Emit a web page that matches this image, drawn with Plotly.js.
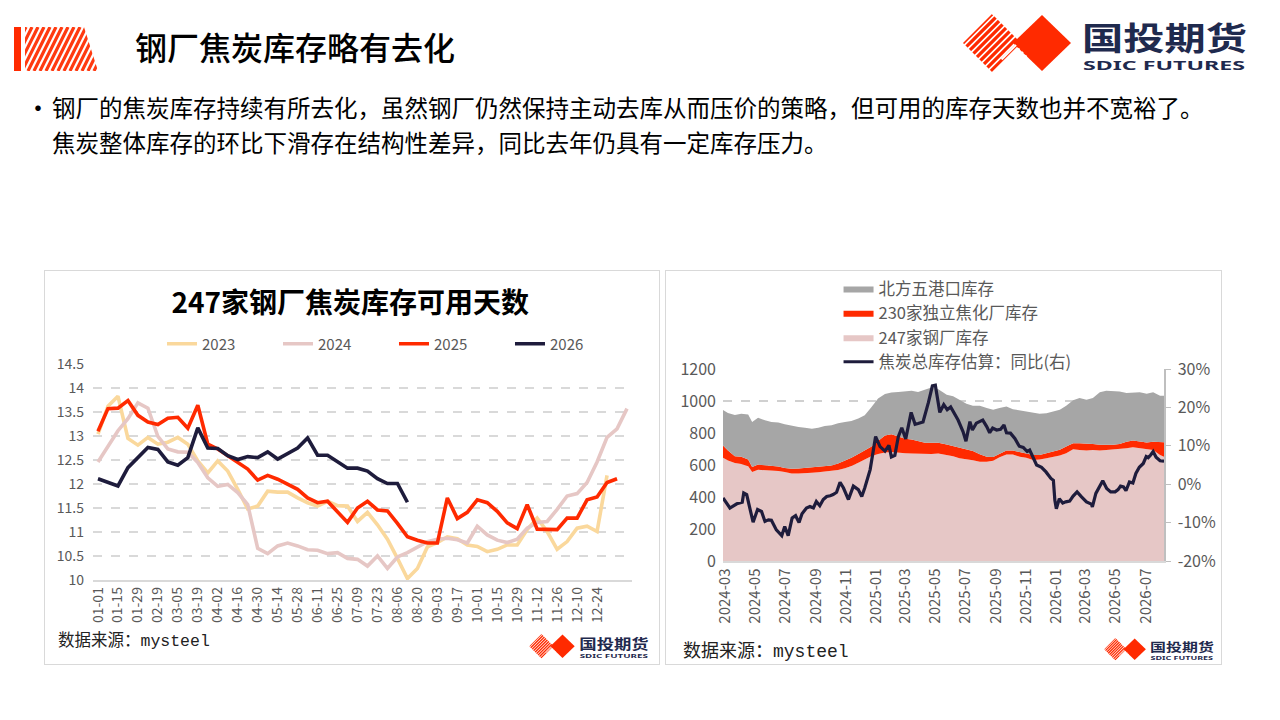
<!DOCTYPE html>
<html>
<head>
<meta charset="utf-8">
<script src="https://cdn.plot.ly/plotly-3.0.1.min.js"></script>
<style>
  body { margin: 0; background: #fff; font-family: 'Noto Sans CJK SC', 'Noto Sans', sans-serif; }
  #page { position: relative; width: 1280px; height: 720px; overflow: hidden; background: #fff; }
  .abs { position: absolute; }
  .box { position: absolute; border: 1.5px solid #d9d9d9; box-sizing: border-box; }
  .src { position: absolute; font-family: 'Liberation Mono', 'Noto Sans CJK SC', monospace; color: #222; white-space: nowrap; }
  .title { left: 135px; top: 24px; font-size: 32px; font-weight: 500; line-height: 44px; color: #000; white-space: nowrap; }
  .bullet { left: 52px; top: 90px; font-size: 23.5px; line-height: 35px; color: #000; white-space: nowrap; }
  .dot { left: 25px; top: 89px; font-size: 26px; line-height: 35px; }
  svg { overflow: visible; }
</style>
</head>
<body>
<div id="page">
  <div class="abs" id="headMark" style="left:14px;top:27px;"></div>
  <div class="abs title">钢厂焦炭库存略有去化</div>
  <div class="abs" id="logoTop" style="left:960px;top:14px;"></div>

  <div class="abs dot">•</div>
  <div class="abs bullet">钢厂的焦炭库存持续有所去化，虽然钢厂仍然保持主动去库从而压价的策略，但可用的库存天数也并不宽裕了。<br>焦炭整体库存的环比下滑存在结构性差异，同比去年仍具有一定库存压力。</div>

  <div class="box" style="left:44px;top:270px;width:616px;height:395px;"></div>
  <div class="abs" id="daysChart" style="left:44px;top:270px;width:615px;height:394px;"></div>
  <div class="src" style="left:58px;top:627px;font-size:16.5px;">数据来源：mysteel</div>
  <div class="abs" id="logoLeft" style="left:528px;top:634px;"></div>

  <div class="box" style="left:665px;top:270px;width:557px;height:395px;"></div>
  <div class="abs" id="stockChart" style="left:665px;top:270px;width:556px;height:394px;"></div>
  <div class="src" style="left:683px;top:636px;font-size:18px;">数据来源：mysteel</div>
  <div class="abs" id="logoRight" style="left:1103px;top:638px;"></div>
</div>

<script>
const FONT = "'Noto Sans CJK SC', 'Noto Sans', sans-serif";
const AXIS_GREY = '#595959';

// ---- left chart: 247家钢厂焦炭库存可用天数 (weekly) ----
const DAYS = [
  '01-01', '01-08', '01-15', '01-22', '01-29', '02-05', '02-19', '02-26', '03-05', '03-12',
  '03-19', '03-26', '04-02', '04-09', '04-16', '04-23', '04-30', '05-07', '05-14', '05-21',
  '05-28', '06-04', '06-11', '06-18', '06-25', '07-02', '07-09', '07-16', '07-23', '07-30',
  '08-06', '08-13', '08-20', '08-27', '09-03', '09-10', '09-17', '09-24', '10-01', '10-08',
  '10-15', '10-22', '10-29', '11-05', '11-12', '11-19', '11-26', '12-03', '12-10', '12-17',
  '12-24', '12-31', '01-07', '01-14'
];
const DAY_TICKS = [
  '01-01', '01-15', '01-29', '02-19', '03-05', '03-19', '04-02', '04-16', '04-30', '05-14',
  '05-28', '06-11', '06-25', '07-09', '07-23', '08-06', '08-20', '09-03', '09-17', '10-01',
  '10-15', '10-29', '11-12', '11-26', '12-10', '12-24'
];
const Y2023 = [
  13.04, 13.62, 13.83, 12.95, 12.81, 12.97, 12.83, 12.87, 12.97, 12.83,
  12.48, 12.23, 12.48, 12.27, 11.89, 11.48, 11.54, 11.85, 11.83, 11.83,
  11.71, 11.61, 11.54, 11.64, 11.55, 11.54, 11.22, 11.41, 11.15, 10.85,
  10.45, 10.03, 10.24, 10.69, 10.78, 10.90, 10.86, 10.73, 10.70, 10.59,
  10.64, 10.73, 10.73, 11.05, 11.29, 11.01, 10.64, 10.80, 11.08, 11.12,
  11.01, 12.18
];
const Y2024 = [
  12.46, 12.80, 13.11, 13.36, 13.69, 13.58, 12.99, 12.73, 12.67, 12.66,
  12.45, 12.13, 11.95, 11.99, 11.82, 11.57, 10.66, 10.55, 10.71, 10.77,
  10.71, 10.63, 10.62, 10.55, 10.57, 10.45, 10.43, 10.29, 10.50, 10.24,
  10.48, 10.57, 10.68, 10.80, 10.85, 10.87, 10.84, 10.77, 11.12, 10.94,
  10.83, 10.78, 10.85, 11.08, 11.20, 11.22, 11.47, 11.75, 11.80, 12.03,
  12.46, 12.97, 13.15, 13.57
];
const Y2025 = [
  13.10, 13.57, 13.58, 13.74, 13.43, 13.29, 13.24, 13.37, 13.39, 13.16,
  13.64, 12.83, 12.73, 12.59, 12.45, 12.31, 12.08, 12.18, 12.10, 11.99,
  11.89, 11.71, 11.61, 11.64, 11.43, 11.20, 11.50, 11.64, 11.46, 11.44,
  11.18, 10.90, 10.83, 10.77, 10.77, 11.71, 11.28, 11.41, 11.67, 11.61,
  11.43, 11.19, 11.07, 11.57, 11.06, 11.05, 11.05, 11.29, 11.29, 11.67,
  11.73, 12.03, 12.11
];
const Y2026 = [
  12.11, 12.03, 11.96, 12.34, 12.55, 12.76, 12.72, 12.46, 12.39, 12.55,
  13.17, 12.75, 12.74, 12.59, 12.51, 12.57, 12.55, 12.67, 12.52, 12.64,
  12.75, 12.96, 12.60, 12.60, 12.46, 12.33, 12.33, 12.27, 12.11, 12.01,
  12.01, 11.62
];
const YEAR_NAMES = ['2023', '2024', '2025', '2026'];
const YEAR_COLORS = ['#FAD89C', '#E6C7C5', '#FF2A00', '#1E1C3C'];

// ---- right chart: 焦炭库存 (万吨) 与同比 ----
const AREA_DATES = [
  '2024-02-26', '2024-03-07', '2024-03-21', '2024-04-03', '2024-04-17', '2024-04-25', '2024-05-07', '2024-05-21',
  '2024-06-03', '2024-06-17', '2024-06-30', '2024-07-14', '2024-07-28', '2024-08-10', '2024-08-24', '2024-09-06',
  '2024-09-19', '2024-10-03', '2024-10-16', '2024-10-30', '2024-11-12', '2024-11-26', '2024-12-09', '2024-12-22',
  '2025-01-05', '2025-01-19', '2025-02-01', '2025-02-15', '2025-03-01', '2025-03-14', '2025-03-27', '2025-04-10',
  '2025-04-23', '2025-05-07', '2025-05-24', '2025-06-06', '2025-06-19', '2025-07-03', '2025-07-16', '2025-07-30',
  '2025-08-13', '2025-08-26', '2025-09-08', '2025-09-22', '2025-10-05', '2025-10-19', '2025-11-01', '2025-11-15',
  '2025-11-28', '2025-12-12', '2025-12-25', '2026-01-08', '2026-01-21', '2026-02-04', '2026-02-17', '2026-03-03',
  '2026-03-16', '2026-03-30', '2026-04-12', '2026-04-26', '2026-05-09', '2026-05-23', '2026-06-05', '2026-06-19',
  '2026-07-03', '2026-07-16', '2026-07-30', '2026-08-07'
];
const STEEL = [
  645, 628, 612, 606, 592, 556, 570, 568, 566, 562, 556, 547, 547, 547, 551, 555,
  558, 561, 568, 580, 593, 614, 634, 655, 669, 678, 681, 676, 674, 672, 670, 666,
  668, 672, 664, 655, 642, 638, 630, 621, 621, 626, 648, 665, 665, 652, 646, 632,
  634, 642, 650, 660, 673, 698, 694, 690, 694, 690, 694, 698, 698, 705, 711, 705,
  698, 694, 663, 652
];
const COKING = [
  77, 62, 43, 45, 42, 32, 33, 32, 31, 28, 26, 29, 31, 35, 34, 33,
  34, 36, 42, 47, 52, 55, 56, 59, 81, 107, 111, 101, 90, 88, 80, 73,
  71, 67, 64, 63, 69, 64, 58, 46, 31, 24, 22, 25, 25, 28, 26, 31,
  29, 33, 32, 35, 42, 38, 42, 46, 38, 36, 32, 28, 34, 41, 42, 41,
  42, 52, 83, 90
];
const PORT = [
  222, 235, 257, 269, 281, 281, 293, 279, 272, 275, 272, 268, 260, 251, 242, 245,
  252, 251, 251, 242, 230, 221, 221, 245, 266, 258, 261, 280, 296, 304, 307, 335,
  346, 335, 311, 311, 297, 281, 282, 303, 304, 295, 286, 276, 259, 261, 263, 265,
  257, 249, 253, 250, 255, 268, 282, 272, 286, 328, 338, 334, 328, 304, 301, 308,
  305, 308, 287, 291
];
const YOY_DATES = [
  '2024-02-26', '2024-03-11', '2024-03-25', '2024-04-05', '2024-04-08', '2024-04-14', '2024-04-21', '2024-04-27',
  '2024-05-06', '2024-05-14', '2024-05-21', '2024-05-28', '2024-06-03', '2024-06-13', '2024-06-24', '2024-06-30',
  '2024-07-07', '2024-07-15', '2024-07-22', '2024-07-29', '2024-08-04', '2024-08-13', '2024-08-20', '2024-08-27',
  '2024-09-02', '2024-09-09', '2024-09-16', '2024-09-23', '2024-09-30', '2024-10-06', '2024-10-13', '2024-10-20',
  '2024-10-27', '2024-11-06', '2024-11-16', '2024-11-26', '2024-12-03', '2024-12-09', '2024-12-20', '2024-12-26',
  '2024-12-31', '2025-01-09', '2025-01-19', '2025-01-27', '2025-02-01', '2025-02-08', '2025-02-15', '2025-02-22',
  '2025-03-02', '2025-03-13', '2025-03-21', '2025-03-27', '2025-04-06', '2025-04-17', '2025-04-25', '2025-05-01',
  '2025-05-10', '2025-05-18', '2025-05-25', '2025-06-01', '2025-06-06', '2025-06-16', '2025-06-26', '2025-07-02',
  '2025-07-10', '2025-07-15', '2025-07-23', '2025-08-05', '2025-08-13', '2025-08-19', '2025-08-25', '2025-09-02',
  '2025-09-10', '2025-09-17', '2025-09-22', '2025-09-30', '2025-10-09', '2025-10-18', '2025-10-26', '2025-11-03',
  '2025-11-08', '2025-11-15', '2025-11-22', '2025-12-02', '2025-12-11', '2025-12-21', '2025-12-26', '2025-12-29',
  '2026-01-01', '2026-01-07', '2026-01-14', '2026-01-20', '2026-01-28', '2026-02-04', '2026-02-12', '2026-02-21',
  '2026-03-03', '2026-03-13', '2026-03-15', '2026-03-22', '2026-03-29', '2026-04-05', '2026-04-13', '2026-04-21',
  '2026-04-30', '2026-05-06', '2026-05-11', '2026-05-17', '2026-05-22', '2026-05-29', '2026-06-05', '2026-06-11',
  '2026-06-18', '2026-06-26', '2026-07-02', '2026-07-06', '2026-07-11', '2026-07-16', '2026-07-22', '2026-07-30',
  '2026-08-07'
];
const YOY = [
  -3.6, -6.2, -5.1, -4.7, -2.3, -2.7, -6.6, -9.9,
  -6.6, -7.1, -9.7, -9.3, -9.4, -11.9, -13.4, -11.0,
  -13.4, -8.8, -8.2, -10.0, -7.7, -6.2, -5.8, -6.2,
  -4.5, -5.6, -4.0, -3.2, -3.0, -2.7, -2.1, 0.5,
  -1.0, -4.0, -0.5, -1.4, -3.2, -1.0, 3.8, 9.1,
  12.4, 9.8, 8.6, 10.1, 7.1, 7.5, 12.4, 14.7,
  11.8, 18.7, 15.6, 15.8, 16.2, 21.3, 25.6, 25.8,
  18.7, 20.7, 19.4, 20.1, 18.9, 16.7, 13.7, 11.2,
  16.3, 14.1, 15.9, 16.7, 15.0, 13.4, 14.6, 14.1,
  14.3, 15.4, 13.4, 13.3, 11.9, 9.9, 9.6, 8.5,
  8.9, 6.7, 5.0, 4.4, 3.2, 1.5, 1.0, -4.2,
  -6.4, -3.8, -4.9, -4.6, -4.4, -3.1, -2.0, -3.3,
  -4.6, -5.2, -5.9, -2.4, -0.9, 0.9, -1.1, -2.0,
  -2.0, -1.4, -0.5, -0.7, -1.7, 0.6, 0.3, 2.8,
  4.4, 5.4, 7.2, 6.9, 7.6, 8.5, 7.0, 6.1,
  6.0
];
const MONTH_TICKS = [
  '2024-03', '2024-05', '2024-07', '2024-09', '2024-11', '2025-01', '2025-03', '2025-05',
  '2025-07', '2025-09', '2025-11', '2026-01', '2026-03', '2026-05', '2026-07'
];
const PCT_TICKS = [-20, -10, 0, 10, 20, 30];
const PCT_LABELS = ['-20%', '-10%', '0%', '10%', '20%', '30%'];

const CONFIG = { displayModeBar: false, staticPlot: true };

// ---- left chart ----
const yearSeries = [Y2023, Y2024, Y2025, Y2026];
const dayTraces = yearSeries.map((vals, i) => ({
  type: 'scatter',
  mode: 'lines',
  name: YEAR_NAMES[i],
  x: DAYS.slice(0, vals.length),
  y: vals,
  line: { color: YEAR_COLORS[i], width: 3.6 }
}));

Plotly.newPlot('daysChart', dayTraces, {
  width: 615, height: 394,
  margin: { l: 49, r: 27, t: 94, b: 84, autoexpand: false },
  paper_bgcolor: 'rgba(0,0,0,0)', plot_bgcolor: 'rgba(0,0,0,0)',
  font: { family: FONT, color: AXIS_GREY },
  title: {
    text: '<b>247家钢厂焦炭库存可用天数</b>',
    font: { family: FONT, size: 28, color: '#000' },
    x: 0.498, xref: 'container', xanchor: 'center',
    y: 0.916, yref: 'container', yanchor: 'middle'
  },
  showlegend: true,
  legend: {
    orientation: 'h', x: 0.128, xanchor: 'left',
    y: 0.812, yref: 'container', yanchor: 'middle',
    font: { size: 15, color: AXIS_GREY },
    entrywidth: 71, entrywidthmode: 'pixels',
    bgcolor: 'rgba(0,0,0,0)'
  },
  xaxis: {
    type: 'category', categoryorder: 'array', categoryarray: DAYS,
    range: [-0.5, DAYS.length - 0.5],
    tickmode: 'array', tickvals: DAY_TICKS, tickangle: -90,
    tickfont: { size: 14, color: AXIS_GREY },
    showline: true, linecolor: '#d9d9d9', linewidth: 1.5,
    showgrid: false, ticks: '', zeroline: false
  },
  yaxis: {
    range: [10, 14.5], dtick: 0.5, tick0: 10,
    showgrid: true, gridcolor: '#d9d9d9', gridwidth: 1.5, griddash: 'dash',
    zeroline: false, showline: false, ticks: '',
    tickfont: { size: 14, color: AXIS_GREY }, ticklabelstandoff: 8
  }
}, CONFIG);

// ---- right chart ----
const areaTrace = (name, vals, color, rank) => ({
  type: 'scatter', mode: 'lines', name,
  x: AREA_DATES, y: vals,
  stackgroup: 'stock', fillcolor: color,
  line: { width: 0, color },
  legendrank: rank
});

const stockTraces = [
  areaTrace('247家钢厂库存', STEEL, '#E6C7C6', 3),
  areaTrace('230家独立焦化厂库存', COKING, '#FF2A00', 2),
  areaTrace('北方五港口库存', PORT, '#A6A6A6', 1),
  {
    type: 'scatter', mode: 'lines', name: '焦炭总库存估算：同比(右)',
    x: YOY_DATES, y: YOY, yaxis: 'y2',
    line: { color: '#1E1C3C', width: 3.2 },
    legendrank: 4
  }
];

Plotly.newPlot('stockChart', stockTraces, {
  width: 556, height: 394,
  margin: { l: 58, r: 57, t: 99, b: 103, autoexpand: false },
  paper_bgcolor: 'rgba(0,0,0,0)', plot_bgcolor: 'rgba(0,0,0,0)',
  font: { family: FONT, color: AXIS_GREY },
  showlegend: true,
  legend: {
    x: 0.262, xanchor: 'left',
    y: 0.997, yref: 'container', yanchor: 'top',
    traceorder: 'normal',
    font: { size: 16.5, color: AXIS_GREY },
    bgcolor: 'rgba(0,0,0,0)'
  },
  xaxis: {
    type: 'date', range: ['2024-02-26', '2026-08-07'],
    tickmode: 'array', tickvals: MONTH_TICKS, ticktext: MONTH_TICKS, tickangle: -90,
    tickfont: { size: 15, color: AXIS_GREY },
    showline: true, linecolor: '#d9d9d9', linewidth: 1.5,
    showgrid: false, ticks: '', zeroline: false
  },
  yaxis: {
    range: [0, 1200], dtick: 200, tick0: 0,
    showgrid: true, gridcolor: '#d0d0d0', gridwidth: 1.5, griddash: 'dash',
    zeroline: false, showline: false, ticks: '',
    tickfont: { size: 16, color: AXIS_GREY }, ticklabelstandoff: 6
  },
  yaxis2: {
    overlaying: 'y', side: 'right', range: [-20, 30],
    tickmode: 'array', tickvals: PCT_TICKS, ticktext: PCT_LABELS,
    showgrid: false, zeroline: false,
    showline: true, linecolor: '#bfbfbf', linewidth: 1.5,
    ticks: 'outside', ticklen: 5, tickcolor: '#bfbfbf',
    tickfont: { size: 16, color: AXIS_GREY }, ticklabelstandoff: 4
  }
}, CONFIG);

// ---- logos (decoration) ----
function logoSvg(id, w) {
  const h = w * 58 / 290;
  let stripes = '';
  for (let k = -70; k < 120; k += 7) stripes += `<line x1="${k}" y1="60" x2="${k + 60}" y2="0"/>`;
  let cuts = '';
  for (let k = 20; k < 110; k += 7) cuts += `<line x1="${k}" y1="60" x2="${k + 60}" y2="0"/>`;
  return `<svg width="${w}" height="${h}" viewBox="0 0 290 58">
    <defs>
      <clipPath id="${id}a"><polygon points="3,29 32,0 61,29 32,58"/></clipPath>
      <clipPath id="${id}b"><polygon points="54,29 68,43 56,58 40,44"/></clipPath>
    </defs>
    <polygon points="53,29 82,1 111,29 82,57" fill="#FF2A00"/>
    <g clip-path="url(#${id}a)" stroke="#FF2A00" stroke-width="3.3">${stripes}</g>
    <g clip-path="url(#${id}b)" stroke="#fff" stroke-width="2">${cuts}</g>
    <text x="122" y="36" font-family="'Noto Sans CJK SC'" font-weight="700" font-size="32" fill="#1F2A4E"
      textLength="165" lengthAdjust="spacingAndGlyphs">国投期货</text>
    <text x="123" y="56" font-family="'Noto Sans', 'DejaVu Sans'" font-weight="700" font-size="11.5" fill="#1F2A4E"
      textLength="162" lengthAdjust="spacingAndGlyphs">SDIC FUTURES</text>
  </svg>`;
}
document.getElementById('logoTop').innerHTML = logoSvg('lt', 290);
document.getElementById('logoLeft').innerHTML = logoSvg('ll', 122);
document.getElementById('logoRight').innerHTML = logoSvg('lr', 112);

// header mark: solid bar + diagonal stripes with a slanted right edge
(function () {
  let lines = '';
  for (let k = -40; k < 100; k += 6) lines += `<line x1="${k}" y1="44" x2="${k + 22}" y2="0"/>`;
  document.getElementById('headMark').innerHTML = `<svg width="84" height="44" viewBox="0 0 84 44">
    <defs><clipPath id="hm"><polygon points="11,0 70,0 84,44 11,44"/></clipPath></defs>
    <rect x="0" y="0" width="7" height="44" fill="#FF2A00"/>
    <g clip-path="url(#hm)" stroke="#FF3A10" stroke-width="3.2">${lines}</g>
  </svg>`;
})();
</script>
</body>
</html>
